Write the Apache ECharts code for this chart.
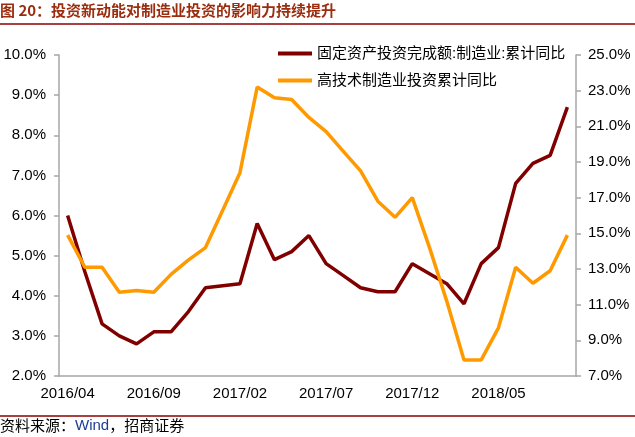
<!DOCTYPE html>
<html>
<head>
<meta charset="utf-8">
<script src="https://cdn.jsdelivr.net/npm/echarts@6/dist/echarts.min.js"></script>
<style>
html,body{margin:0;padding:0;background:#fff;}
#c{width:635px;height:437px;}
</style>
</head>
<body>
<div id="c"></div>
<script>
const categories = [
  '2016/04','2016/05','2016/06','2016/07','2016/08','2016/09','2016/10','2016/11','2016/12',
  '2017/01','2017/02','2017/03','2017/04','2017/05','2017/06','2017/07','2017/08','2017/09','2017/10','2017/11','2017/12',
  '2018/01','2018/02','2018/03','2018/04','2018/05','2018/06','2018/07','2018/08','2018/09'
];
// 固定资产投资完成额:制造业:累计同比 (left axis, %)
const mfgFAI = [6.0,4.6,3.3,3.0,2.8,3.1,3.1,3.6,4.2,4.25,4.3,5.8,4.9,5.1,5.5,4.8,4.5,4.2,4.1,4.1,4.8,4.55,4.3,3.8,4.8,5.2,6.8,7.3,7.5,8.7];
// 高技术制造业投资累计同比 (right axis, %)
const hiTech = [14.9,13.1,13.1,11.7,11.8,11.7,12.7,13.5,14.2,16.3,18.4,23.2,22.6,22.5,21.5,20.7,19.6,18.5,16.8,15.9,17.0,14.2,11.2,7.9,7.9,9.7,13.1,12.2,12.9,14.9];
const seriesNames = ['固定资产投资完成额:制造业:累计同比','高技术制造业投资累计同比'];
const titleText = '图 20：投资新动能对制造业投资的影响力持续提升';

const chart = echarts.init(document.getElementById('c'), null, {renderer:'canvas'});
const FONT = '"Liberation Sans", Arial, "Noto Sans CJK SC", sans-serif';
const axisGray = '#A6A6A6';
chart.setOption({
  animation:false,
  backgroundColor:'#fff',
  grid:{left:59, right:59, top:55, bottom:61, containLabel:false},
  legend:{
    orient:'vertical', left:273, top:41, itemWidth:34, itemHeight:4, itemGap:12,
    icon:'rect',
    textStyle:{fontSize:15, color:'#000', fontFamily:FONT},
    data:seriesNames
  },
  xAxis:{
    type:'category', data:categories, boundaryGap:true,
    axisLine:{lineStyle:{color:axisGray, width:1.5}},
    axisTick:{interval:4, length:5, lineStyle:{color:axisGray, width:1.5}},
    axisLabel:{interval:4, margin:10, fontSize:15, color:'#000', fontFamily:FONT},
    splitLine:{show:false}
  },
  yAxis:[{
    type:'value', min:2, max:10, interval:1, position:'left',
    axisLine:{show:true, lineStyle:{color:axisGray, width:1.5}},
    axisTick:{show:true, length:5, lineStyle:{color:axisGray, width:1.5}},
    axisLabel:{margin:13, fontSize:15, color:'#000', fontFamily:FONT, formatter:v=>v.toFixed(1)+'%'},
    splitLine:{show:false}
  },{
    type:'value', min:7, max:25, interval:2, position:'right',
    axisLine:{show:true, lineStyle:{color:axisGray, width:1.5}},
    axisTick:{show:true, length:5, lineStyle:{color:axisGray, width:1.5}},
    axisLabel:{margin:12, fontSize:15, color:'#000', fontFamily:FONT, formatter:v=>v.toFixed(1)+'%'},
    splitLine:{show:false}
  }],
  series:[{
    name:seriesNames[0], type:'line', yAxisIndex:0, data:mfgFAI,
    symbol:'none', color:'#800000', lineStyle:{width:3.5, color:'#800000'}
  },{
    name:seriesNames[1], type:'line', yAxisIndex:1, data:hiTech,
    symbol:'none', color:'#FF9900', lineStyle:{width:3.5, color:'#FF9900'}
  }],
  graphic:[
    {type:'text', left:0, top:3, style:{text:titleText, fontSize:15, fontWeight:'bold', fill:'#9B2D0E', fontFamily:'"Noto Sans CJK SC", sans-serif'}},
    {type:'line', shape:{x1:0, y1:24, x2:635, y2:24}, style:{stroke:'#8B0000', lineWidth:1.5}},
    {type:'line', shape:{x1:0, y1:416, x2:635, y2:416}, style:{stroke:'#8B0000', lineWidth:1.5}},
    {type:'text', left:0, top:418, style:{
      rich:{a:{fontSize:15, fill:'#000', fontFamily:'"Noto Sans CJK SC", sans-serif'}, b:{fontSize:15, fill:'#1F3C99', fontFamily:FONT}},
      text:'{a|资料来源：}{b|Wind}{a|，招商证券}'
    }}
  ]
});
</script>
</body>
</html>
